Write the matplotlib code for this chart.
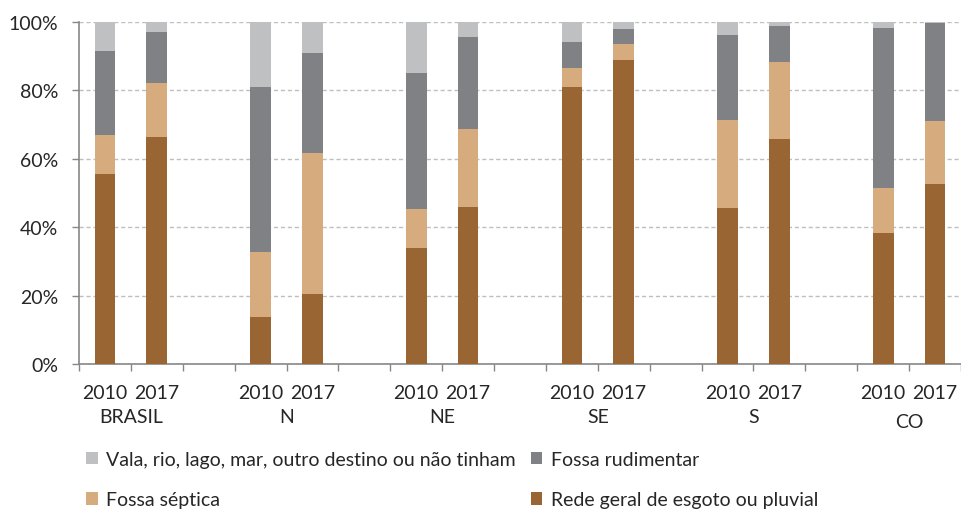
import matplotlib
matplotlib.use('Agg')
import matplotlib.pyplot as plt
import matplotlib.transforms as mtransforms

plt.rcParams['font.family'] = ['Lato', 'DejaVu Sans']

regions = ['BRASIL', 'N', 'NE', 'SE', 'S', 'CO']
years = ['2010', '2017']

# % of households per bar, in order BRASIL 2010, BRASIL 2017, N 2010, N 2017, ...
rede = [55.4, 66.4, 13.9, 20.5, 34.0, 46.0, 81.0, 88.9, 45.7, 65.9, 38.3, 52.7]
septica = [11.6, 15.7, 18.9, 41.2, 11.2, 22.7, 5.5, 4.6, 25.7, 22.4, 13.2, 18.3]
rudimentar = [24.4, 14.9, 48.2, 29.3, 39.9, 26.7, 7.7, 4.3, 24.6, 10.5, 46.7, 28.7]
vala = [8.6, 3.0, 19.0, 9.0, 14.9, 4.6, 5.8, 2.2, 4.0, 1.2, 1.8, 0.3]

series = [
    ('Rede geral de esgoto ou pluvial', rede, '#996633'),
    ('Fossa séptica', septica, '#D6AB7E'),
    ('Fossa rudimentar', rudimentar, '#808184'),
    ('Vala, rio, lago, mar, outro destino ou não tinham', vala, '#BFC0C2'),
]

FS = 14
TXT = '#262626'

# two bars per region, one empty slot between regions
xpos = [3 * i + j for i in range(len(regions)) for j in range(len(years))]

fig = plt.figure(figsize=(9.61, 5.10), dpi=100)
ax = fig.add_axes([79 / 961, 1 - 365.3 / 510, 882 / 961, 342.6 / 510])

bottom = [0.0] * len(xpos)
handles = {}
for name, vals, color in series:
    b = ax.bar(xpos, vals, width=0.4, bottom=bottom, color=color, label=name, zorder=3)
    handles[name] = b
    bottom = [bt + v for bt, v in zip(bottom, vals)]

ax.set_xlim(-0.5, 3 * len(regions) - 1.5)
ax.set_ylim(0, 100)
ax.set_yticks(range(0, 101, 20))
ax.set_yticklabels(['%d%%' % v for v in range(0, 101, 20)], fontsize=FS, color=TXT)
ax.yaxis.grid(True, color='#BFBFBF', linestyle=(0, (3, 2)), linewidth=1)
ax.set_axisbelow(True)

ax.set_xticks([k - 0.5 for k in range(3 * len(regions))])
ax.set_xticklabels([])
ax.tick_params(axis='both', length=5, width=1, color='#878787')
ax.tick_params(axis='y', pad=10)

for s in ['top', 'right']:
    ax.spines[s].set_visible(False)
for s in ['left', 'bottom']:
    ax.spines[s].set_color('#878787')
    ax.spines[s].set_linewidth(1.2)

trans = mtransforms.blended_transform_factory(ax.transData, ax.transAxes)
for i, reg in enumerate(regions):
    for j, yr in enumerate(years):
        ax.text(3 * i + j, -0.083, yr, transform=trans, ha='center', va='center',
                fontsize=FS, color=TXT)
    ry = -0.167 if reg == 'CO' else -0.152
    ax.text(3 * i + 0.5, ry, reg, transform=trans, ha='center', va='center',
            fontsize=FS, color=TXT)

order = ['Vala, rio, lago, mar, outro destino ou não tinham', 'Fossa séptica',
         'Fossa rudimentar', 'Rede geral de esgoto ou pluvial']
fig.legend([handles[n] for n in order], order, ncol=2, frameon=False,
           loc='upper left', bbox_to_anchor=(86 / 961, 1 - 452 / 510),
           borderaxespad=0, borderpad=0, fontsize=FS,
           handlelength=0.6, handleheight=0.6, handletextpad=0.45,
           columnspacing=0.75, labelspacing=1.2, labelcolor=TXT)

fig.savefig('out.png', dpi=100)
